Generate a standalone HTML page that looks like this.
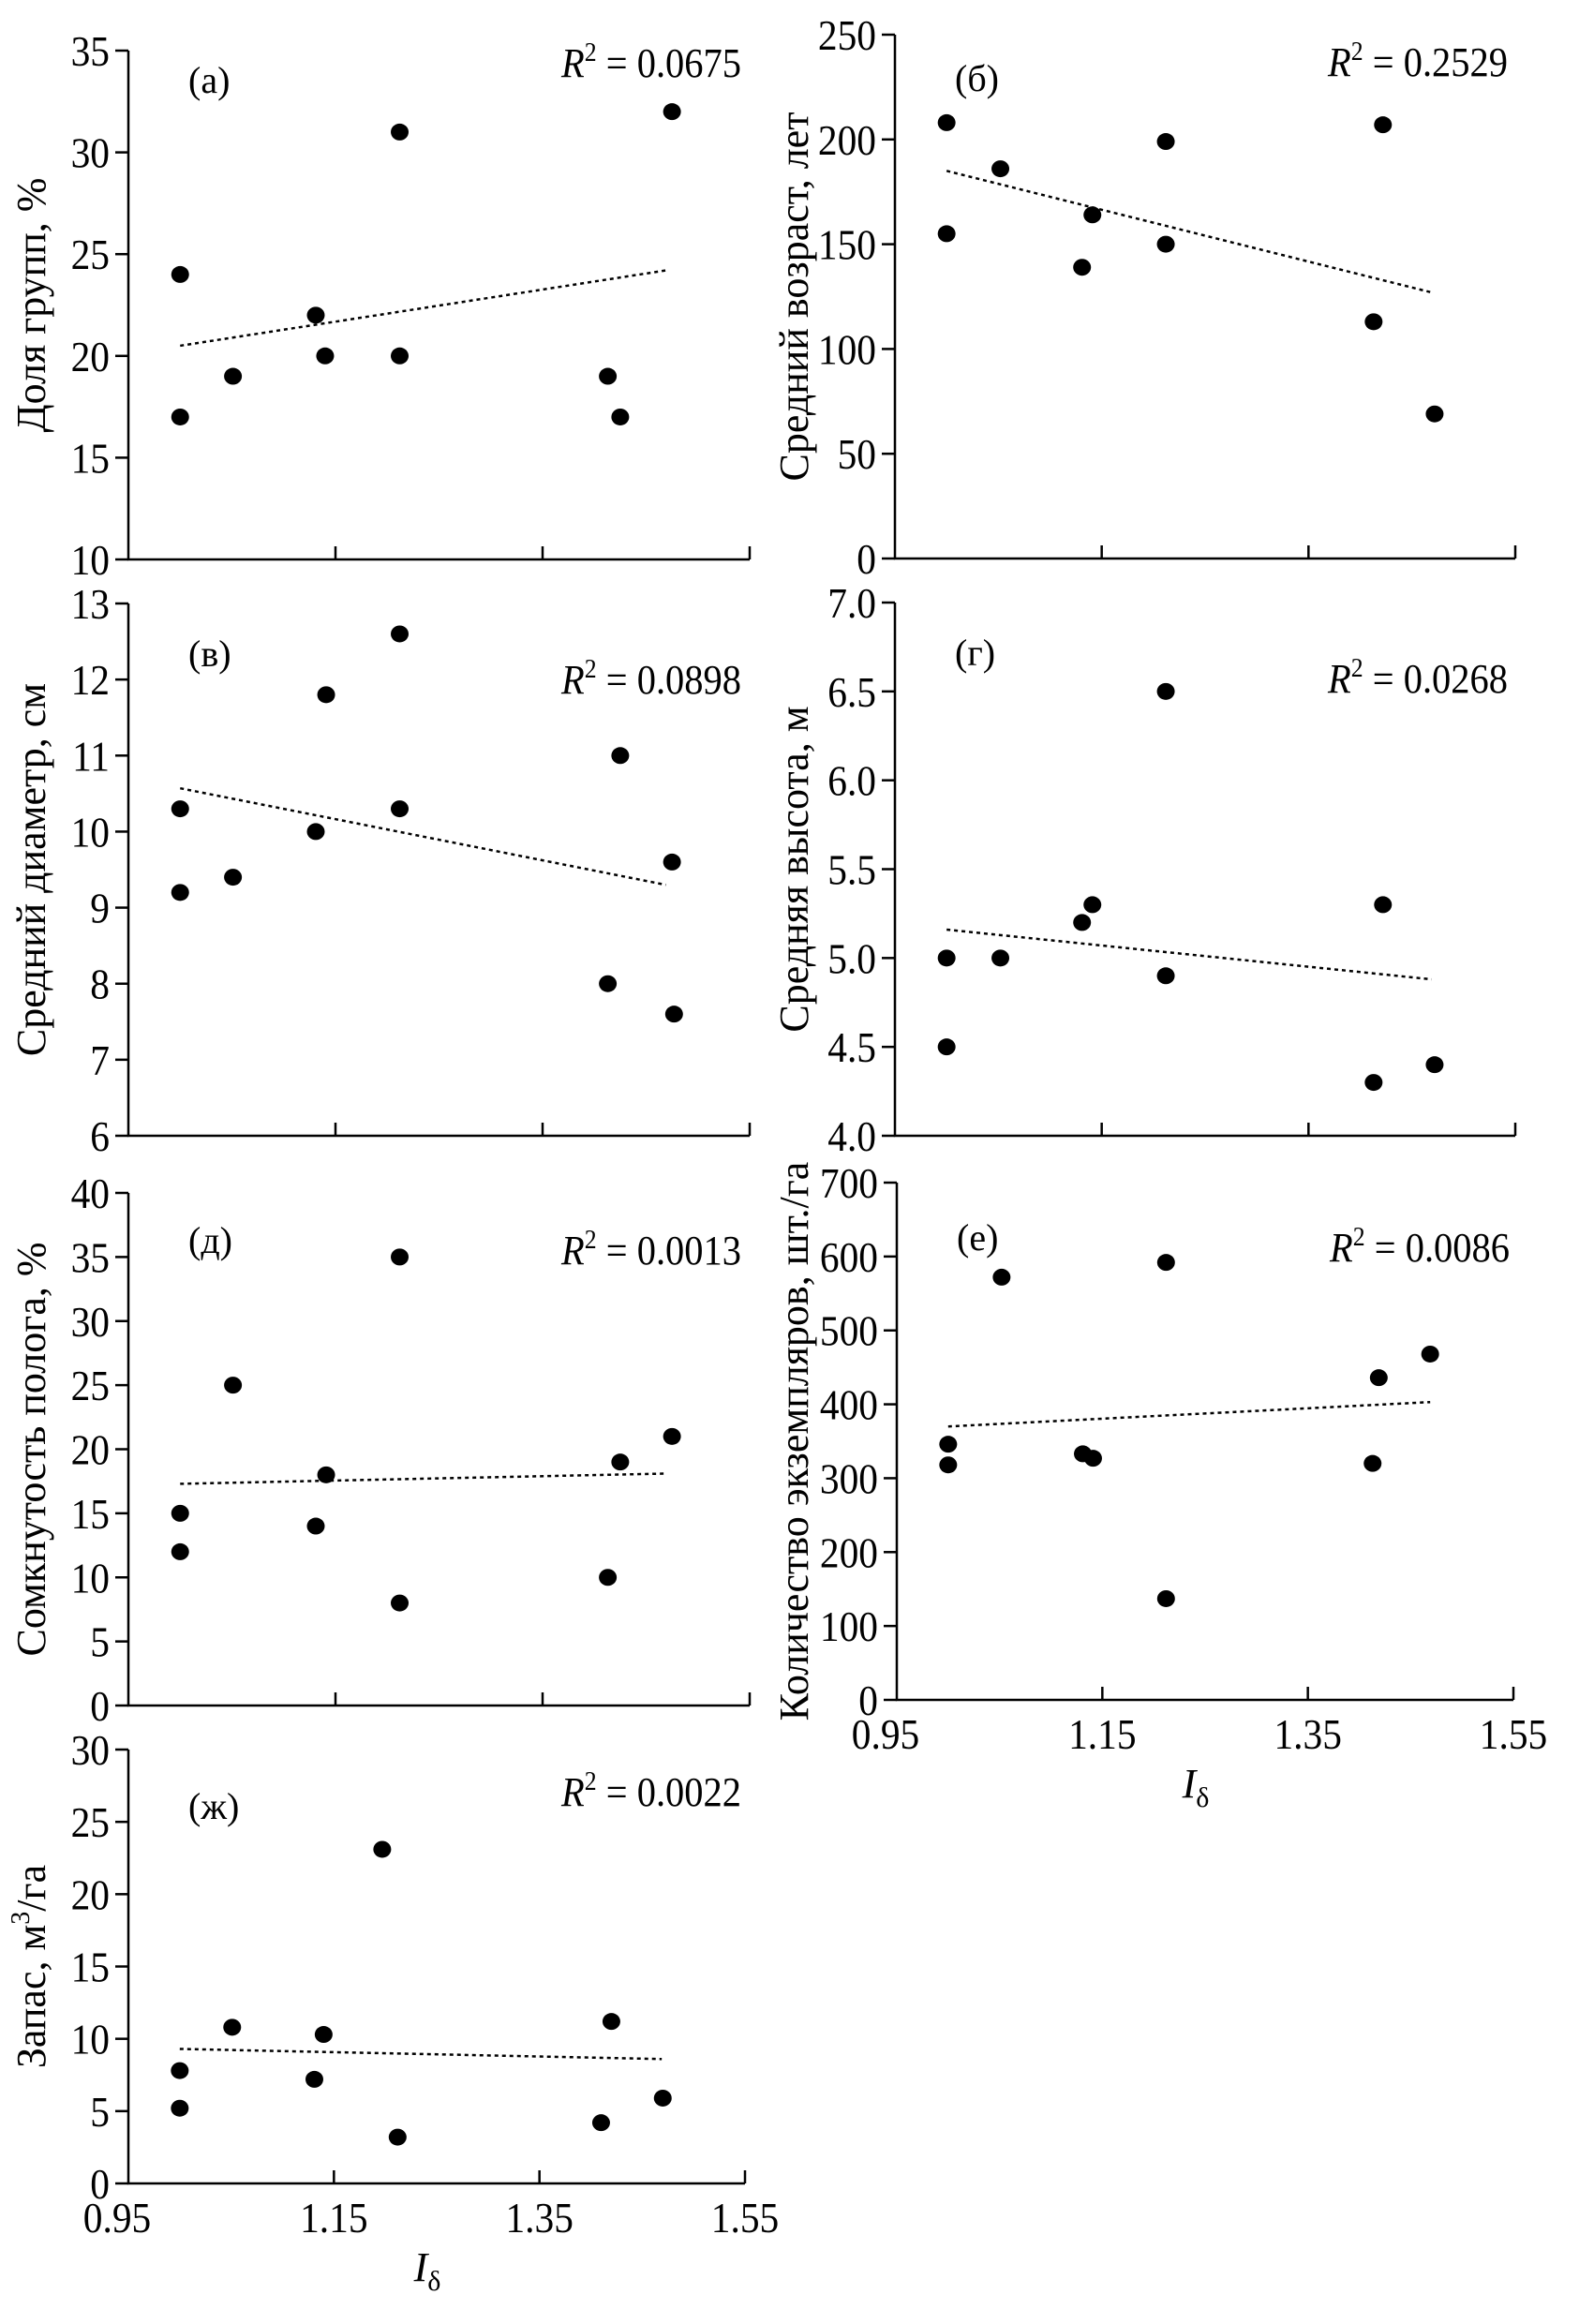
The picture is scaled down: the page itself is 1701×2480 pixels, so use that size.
<!DOCTYPE html>
<html><head><meta charset="utf-8">
<style>
html,body{margin:0;padding:0;background:#fff;}
svg{display:block;}
text{font-family:"Liberation Serif","DejaVu Serif",serif;fill:#000;}
</style></head>
<body>
<svg id="chart" width="1701" height="2480" viewBox="0 0 1701 2480" xmlns="http://www.w3.org/2000/svg"></svg>
<script>
// shared x values (I_delta)
const xA = [1.000,1.000,1.051,1.131,1.140,1.212,1.212,1.413,1.425,1.475];
const yA = [24,17,19,22,20,31,20,19,17,32];
const trendA = [20.5,24.2];
const xB = [1.000,1.000,1.052,1.131,1.141,1.212,1.212,1.413,1.422,1.472];
const yB = [208,155,186,139,164,199,150,113,207,69];
const trendB = [185,127];
const xV = [1.000,1.000,1.051,1.131,1.141,1.212,1.212,1.413,1.425,1.475,1.477];
const yV = [10.3,9.2,9.4,10.0,11.8,12.6,10.3,8.0,11.0,9.6,7.6];
const trendV = [10.57,9.3];
const xG = [1.000,1.000,1.052,1.131,1.141,1.212,1.212,1.413,1.422,1.472];
const yG = [5.0,4.5,5.0,5.2,5.3,6.5,4.9,4.3,5.3,4.4];
const trendG = [5.16,4.88];
const xD = [1.000,1.000,1.051,1.131,1.141,1.212,1.212,1.413,1.425,1.475];
const yD = [15,12,25,14,18,35,8,10,19,21];
const trendD = [17.3,18.1];
const xE = [1.000,1.000,1.052,1.131,1.141,1.212,1.212,1.413,1.419,1.469];
const yE = [346,318,572,333,327,592,137,320,436,468];
const trendE = [370,403];
const xZh = [1.000,1.000,1.051,1.131,1.140,1.197,1.212,1.410,1.420,1.470];
const yZh = [7.8,5.2,10.8,7.2,10.3,23.1,3.2,4.2,11.2,5.9];
const trendZh = [9.3,8.6];
const trendX = [1.000,1.469];
const xTicks = [0.95,1.15,1.35,1.55];
const xTickLabels = ["0.95","1.15","1.35","1.55"];

const NS="http://www.w3.org/2000/svg";
const svg=document.getElementById('chart');
function mk(tag,attrs,parent){const e=document.createElementNS(NS,tag);for(const k in attrs)e.setAttribute(k,attrs[k]);(parent||svg).appendChild(e);return e;}

function panel(o){
  const g=mk('g',{});
  
  
  const sx=v=>o.L+(v-0.95)/0.6*(o.R-o.L);
  const sy=v=>o.B-(v-o.ymin)/(o.ymax-o.ymin)*(o.B-o.T);
  const ax=mk('path',{d:`M${o.L},${o.T} V${o.B} H${o.R}`,fill:'none',stroke:'#000','stroke-width':2.5},g);
  
  
  o.yTicks.forEach((v,i)=>{
    const y=sy(v);
    mk('line',{x1:o.L-14,x2:o.L,y1:y,y2:y,stroke:'#000','stroke-width':2.5},g);
    const t=mk('text',{x:0,y:0,'text-anchor':'end','font-size':46,transform:`translate(${o.L-20},${y+16}) scale(0.9,1)`},g);
    t.textContent=o.yLabels[i];
    
    
  });
  xTicks.forEach((v,i)=>{
    if(i===0)return;
    const x=sx(v);
    mk('line',{x1:x,x2:x,y1:o.B,y2:o.B-14,stroke:'#000','stroke-width':2.5},g);
    if(o.xlabels){
      const t=mk('text',{x:0,y:0,'text-anchor':'middle','font-size':46,transform:`translate(${x},${o.B+52}) scale(0.9,1)`},g);
      t.textContent=xTickLabels[i];
      
      
    }
  });
  if(o.xlabels){
    const t=mk('text',{x:0,y:0,'text-anchor':'middle','font-size':46,transform:`translate(${o.L-12},${o.B+52}) scale(0.9,1)`},g);
    t.textContent=xTickLabels[0];
    
    
    const tt=mk('text',{x:(o.L+o.R)/2-10,y:o.B+104,'text-anchor':'middle','font-size':44},g);
    tt.innerHTML='<tspan font-style="italic">I</tspan><tspan font-size="30" dy="10">δ</tspan>';
    
    
  }
  const yt=mk('text',{x:0,y:0,'text-anchor':'middle','font-size':44,transform:`translate(${o.ytx},${(o.T+o.B)/2}) rotate(-90)`},g);
  yt.innerHTML=o.ytitle;
  
  
  const pl=mk('text',{x:o.L+64,y:o.T+o.plY,'font-size':40},g);
  pl.textContent=o.plabel;
  
  
  const r2=mk('text',{x:0,y:0,'text-anchor':'end','font-size':44,transform:`translate(${o.L+654},${o.T+o.r2Y}) scale(0.92,1)`},g);
  r2.innerHTML='<tspan font-style="italic">R</tspan><tspan font-size="28" dy="-17">2</tspan><tspan dy="17"> = '+o.r2+'</tspan>';
  
  
  const tl=mk('line',{x1:sx(trendX[0]),y1:sy(o.trend[0]),x2:sx(trendX[1]),y2:sy(o.trend[1]),stroke:'#000','stroke-width':2.5,'stroke-dasharray':'4 4'},g);
  
  
  o.xs.forEach((xv,i)=>{
    const c=mk('ellipse',{cx:sx(xv),cy:sy(o.ys[i]),rx:9.5,ry:9,fill:'#000'},g);
    
    
  });
}
const tk=(a,b,s)=>{const r=[];for(let v=a;v<=b+1e-9;v+=s)r.push(+v.toFixed(2));return r;};

panel({name:'panel-a',L:137,R:800,T:54,B:597,ymin:10,ymax:35,yTicks:tk(10,35,5),yLabels:tk(10,35,5).map(String),
 ytx:48,ytitle:'Доля групп, %',plabel:'(а)',plY:45,r2:'0.0675',r2Y:28,xs:xA,ys:yA,trend:trendA});
panel({name:'panel-b',L:955,R:1617,T:37,B:596,ymin:0,ymax:250,yTicks:tk(0,250,50),yLabels:tk(0,250,50).map(String),
 ytx:862,ytitle:'Средний возраст, лет',plabel:'(б)',plY:60,r2:'0.2529',r2Y:44,xs:xB,ys:yB,trend:trendB});
panel({name:'panel-v',L:137,R:800,T:644,B:1212,ymin:6,ymax:13,yTicks:tk(6,13,1),yLabels:tk(6,13,1).map(String),
 ytx:48,ytitle:'Средний диаметр, см',plabel:'(в)',plY:67,r2:'0.0898',r2Y:96,xs:xV,ys:yV,trend:trendV});
panel({name:'panel-g',L:955,R:1617,T:643,B:1212,ymin:4,ymax:7,yTicks:tk(4,7,0.5),yLabels:tk(4,7,0.5).map(v=>v.toFixed(1)),
 ytx:862,ytitle:'Средняя высота, м',plabel:'(г)',plY:67,r2:'0.0268',r2Y:96,xs:xG,ys:yG,trend:trendG});
panel({name:'panel-d',L:137,R:800,T:1273,B:1820,ymin:0,ymax:40,yTicks:tk(0,40,5),yLabels:tk(0,40,5).map(String),
 ytx:48,ytitle:'Сомкнутость полога, %',plabel:'(д)',plY:64,r2:'0.0013',r2Y:76,xs:xD,ys:yD,trend:trendD});
panel({name:'panel-e',L:957,R:1615,T:1262,B:1814,ymin:0,ymax:700,yTicks:tk(0,700,100),yLabels:tk(0,700,100).map(String),
 ytx:862,ytitle:'Количество экземпляров, шт./га',plabel:'(е)',plY:72,r2:'0.0086',r2Y:84,xs:xE,ys:yE,trend:trendE,xlabels:true});
panel({name:'panel-zh',L:137,R:795,T:1867,B:2330,ymin:0,ymax:30,yTicks:tk(0,30,5),yLabels:tk(0,30,5).map(String),
 ytx:48,ytitle:'Запас, м<tspan font-size="28" dy="-17">3</tspan><tspan dy="17">/га</tspan>',plabel:'(ж)',plY:74,r2:'0.0022',r2Y:60,xs:xZh,ys:yZh,trend:trendZh,xlabels:true});
</script>
</body></html>
